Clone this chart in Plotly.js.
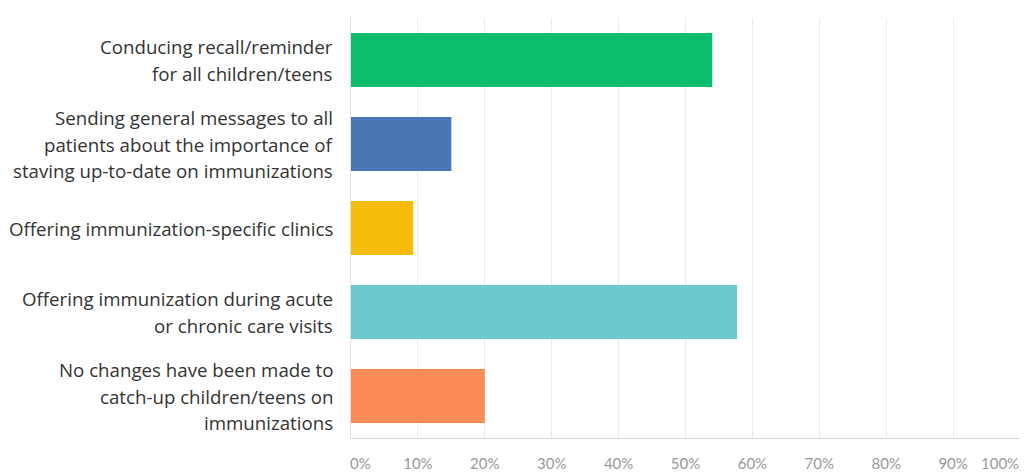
<!DOCTYPE html>
<html>
<head>
<meta charset="utf-8">
<script src="https://cdn.plot.ly/plotly-3.0.1.min.js"></script>
<style>html,body{margin:0;padding:0;background:#fff;}#chart{width:1026px;height:474px;}</style>
</head>
<body>
<div id="chart"></div>
<script>
const categories = [
  "Conducing recall/reminder<br>for all children/teens",
  "Sending general messages to all<br>patients about the importance of<br>staving up-to-date on immunizations",
  "Offering immunization-specific clinics",
  "Offering immunization during acute<br>or chronic care visits",
  "No changes have been made to<br>catch-up children/teens on<br>immunizations"
];
const values = [54, 15, 9.3, 57.7, 20];
const colors = ["#0cbd6c", "#4a76b6", "#f6bd0a", "#6bc8cb", "#fd8b55"];
const tickVals = [0, 10, 20, 30, 40, 50, 60, 70, 80, 90, 100];
const tickText = ["0%", "10%", "20%", "30%", "40%", "50%", "60%", "70%", "80%", "90%", "100%"];

const ids = categories.map((c, i) => "c" + i);

const annotations = [];
const lineH = 26.5;
categories.forEach((c, i) => {
  const lines = c.split("<br>");
  const mid = (lines.length - 1) / 2;
  lines.forEach((ln, j) => {
    annotations.push({
      xref: "paper", yref: "y", x: 0, y: ids[i], xanchor: "right", yanchor: "middle",
      xshift: -16, yshift: (mid - j) * lineH, text: ln, showarrow: false,
      font: {family: "Open Sans, sans-serif", size: 18.7, color: "#333"}
    });
  });
});
// end tick labels are drawn pulled inward, as in the reference
const endLabelPos = [1.4, 97];
[0, tickVals.length - 1].forEach((k, n) => {
  annotations.push({
    xref: "x", yref: "paper", x: endLabelPos[n], y: 0, yanchor: "middle", xanchor: "center",
    yshift: -25, text: tickText[k], showarrow: false,
    font: {family: "Lato, sans-serif", size: 15, color: "#999"}
  });
});

const trace = {
  type: "bar", orientation: "h",
  x: values, y: ids,
  marker: {color: colors},
  hoverinfo: "x"
};

const layout = {
  width: 1026, height: 474,
  margin: {l: 351, r: 6, t: 18, b: 36},
  paper_bgcolor: "#fff", plot_bgcolor: "#fff",
  bargap: 0.36,
  showlegend: false,
  xaxis: {
    range: [0, 100], tickvals: tickVals.slice(1, -1), ticktext: tickText.slice(1, -1),
    showgrid: true, gridcolor: "#ebebeb", gridwidth: 1,
    zeroline: false, showline: true, linecolor: "#d6d6d6", linewidth: 1,
    ticks: "outside", ticklen: 12, tickcolor: "rgba(0,0,0,0)",
    tickfont: {family: "Lato, sans-serif", size: 15, color: "#999"},
    fixedrange: true
  },
  yaxis: {
    autorange: "reversed", showticklabels: false, showgrid: false,
    zeroline: false, showline: true, linecolor: "#e0e0e0", linewidth: 1,
    fixedrange: true
  },
  annotations: annotations
};

Plotly.newPlot("chart", [trace], layout, {displayModeBar: false, staticPlot: true});
</script>
</body>
</html>
